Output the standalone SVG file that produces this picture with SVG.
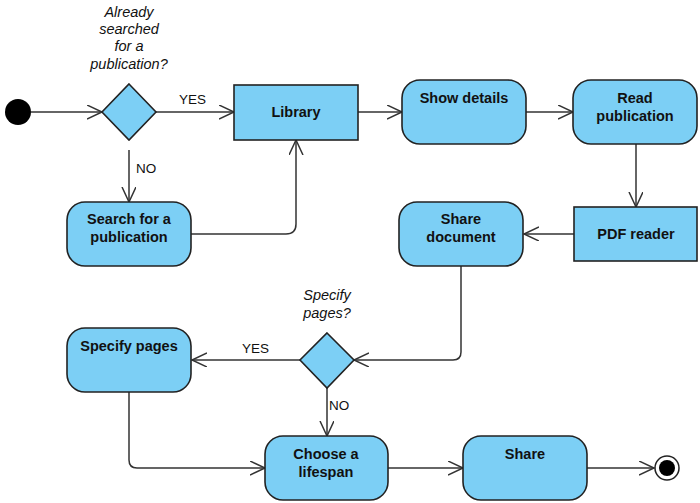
<svg xmlns="http://www.w3.org/2000/svg" width="700" height="503" viewBox="0 0 700 503">
<style>
.n{fill:#7ccff5;stroke:#222;stroke-width:1.6}
.t{font-family:"Liberation Sans",Arial,sans-serif;font-size:14.5px;font-weight:bold;fill:#111;text-anchor:middle}
.q{font-family:"Liberation Sans",Arial,sans-serif;font-size:14.5px;font-style:italic;fill:#111;text-anchor:middle}
.l{font-family:"Liberation Sans",Arial,sans-serif;font-size:13.5px;fill:#111}
.c{fill:none;stroke:#333;stroke-width:1.5}
</style>
<defs>
<marker id="a" markerUnits="userSpaceOnUse" markerWidth="20" markerHeight="16" refX="15" refY="7" orient="auto">
<path d="M0,0 L15,7 L0,14" fill="none" stroke="#333" stroke-width="1.5"/>
</marker>
</defs>
<rect width="700" height="503" fill="#fff"/>
<g id="connectors">
<line class="c" x1="31" y1="112" x2="102" y2="112" marker-end="url(#a)"/>
<line class="c" x1="156" y1="112" x2="234" y2="112" marker-end="url(#a)"/>
<line class="c" x1="129" y1="150" x2="129" y2="202" marker-end="url(#a)"/>
<path class="c" d="M191,234 H286 Q296,234 296,224 V140" marker-end="url(#a)"/>
<line class="c" x1="358" y1="112" x2="402" y2="112" marker-end="url(#a)"/>
<line class="c" x1="526" y1="112" x2="573" y2="112" marker-end="url(#a)"/>
<line class="c" x1="636" y1="144" x2="636" y2="207" marker-end="url(#a)"/>
<line class="c" x1="574" y1="234" x2="524" y2="234" marker-end="url(#a)"/>
<path class="c" d="M461,266 V352 Q461,360 453,360 H354" marker-end="url(#a)"/>
<line class="c" x1="300" y1="360" x2="192" y2="360" marker-end="url(#a)"/>
<line class="c" x1="327" y1="388" x2="327" y2="436" marker-end="url(#a)"/>
<path class="c" d="M129,392 V460 Q129,468 137,468 H265" marker-end="url(#a)"/>
<line class="c" x1="388" y1="468" x2="463" y2="468" marker-end="url(#a)"/>
<line class="c" x1="587" y1="468" x2="654" y2="468" marker-end="url(#a)"/>
<text class="l" x="179" y="104">YES</text>
<text class="l" x="136" y="173">NO</text>
<text class="l" x="242" y="353">YES</text>
<text class="l" x="329" y="410">NO</text>
</g>
<g id="start"><circle cx="18" cy="112" r="13" fill="#000"/></g>
<g id="decision1">
<polygon class="n" points="129,84 156,112 129,140 102,112"/>
<text class="q" x="129" y="17">Already</text>
<text class="q" x="129" y="34">searched</text>
<text class="q" x="129" y="51">for a</text>
<text class="q" x="129" y="69">publication?</text>
</g>
<g id="library"><rect class="n" x="234" y="85" width="124" height="55"/><text class="t" x="296" y="117">Library</text></g>
<g id="showDetails"><rect class="n" x="402" y="80" width="124" height="64" rx="18"/><text class="t" x="464" y="103">Show details</text></g>
<g id="readPublication"><rect class="n" x="573" y="80" width="124" height="64" rx="18"/><text class="t" x="635" y="103">Read</text><text class="t" x="635" y="121">publication</text></g>
<g id="searchPublication"><rect class="n" x="67" y="202" width="124" height="64" rx="18"/><text class="t" x="129" y="224">Search for a</text><text class="t" x="129" y="242">publication</text></g>
<g id="pdfReader"><rect class="n" x="574" y="207" width="123" height="54"/><text class="t" x="636" y="239">PDF reader</text></g>
<g id="shareDocument"><rect class="n" x="399" y="202" width="124" height="64" rx="18"/><text class="t" x="461" y="224">Share</text><text class="t" x="461" y="242">document</text></g>
<g id="decision2">
<polygon class="n" points="327,333 354,360 327,388 300,360"/>
<text class="q" x="327" y="300">Specify</text>
<text class="q" x="327" y="318">pages?</text>
</g>
<g id="specifyPages"><rect class="n" x="67" y="328" width="124" height="64" rx="18"/><text class="t" x="129" y="351">Specify pages</text></g>
<g id="chooseLifespan"><rect class="n" x="265" y="436" width="123" height="64" rx="18"/><text class="t" x="326" y="459">Choose a</text><text class="t" x="326" y="477">lifespan</text></g>
<g id="share"><rect class="n" x="463" y="436" width="124" height="64" rx="18"/><text class="t" x="525" y="459">Share</text></g>
<g id="end"><circle cx="667" cy="468" r="12" fill="#fff" stroke="#222" stroke-width="1.5"/><circle cx="667" cy="468" r="8" fill="#000"/></g>
</svg>
